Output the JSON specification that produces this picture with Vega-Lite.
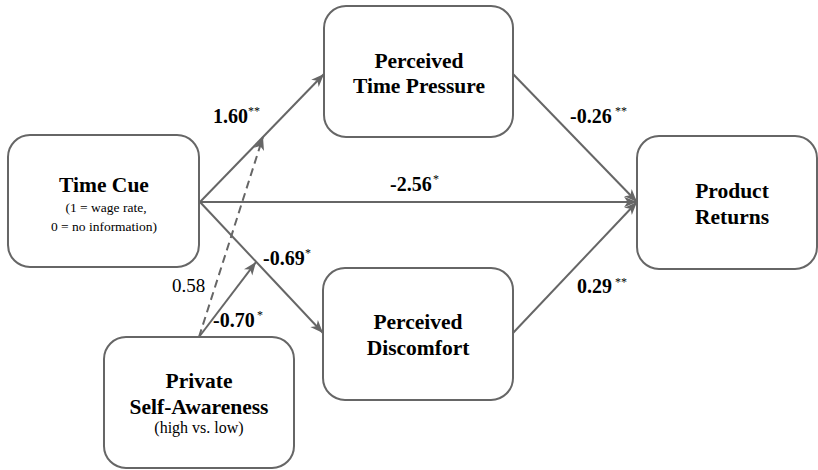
{
  "$schema": "https://vega.github.io/schema/vega-lite/v6.json",
  "width": 818,
  "height": 470,
  "autosize": {"type": "fit", "contains": "padding"},
  "padding": 0,
  "background": "white",
  "config": {"view": {"stroke": null}},
  "datasets": {
    "boxes": [
      {"node": "Time Cue", "x1": 8, "x2": 199, "y1": 135, "y2": 267},
      {"node": "Perceived Time Pressure", "x1": 324, "x2": 513, "y1": 6, "y2": 137},
      {"node": "Perceived Discomfort", "x1": 323, "x2": 513, "y1": 268, "y2": 400},
      {"node": "Product Returns", "x1": 637, "x2": 817, "y1": 136, "y2": 269},
      {"node": "Private Self-Awareness", "x1": 104, "x2": 294, "y1": 337, "y2": 468}
    ],
    "paths": [
      {"from": "Time Cue", "to": "Perceived Time Pressure", "x": 200, "y": 202, "x2": 324, "y2": 74, "kind": "solid"},
      {"from": "Time Cue", "to": "Product Returns", "x": 200, "y": 202, "x2": 637, "y2": 202, "kind": "solid"},
      {"from": "Time Cue", "to": "Perceived Discomfort", "x": 200, "y": 202, "x2": 323, "y2": 333, "kind": "solid"},
      {"from": "Perceived Time Pressure", "to": "Product Returns", "x": 513, "y": 74, "x2": 637, "y2": 202, "kind": "solid"},
      {"from": "Perceived Discomfort", "to": "Product Returns", "x": 513, "y": 333, "x2": 637, "y2": 202, "kind": "solid"},
      {"from": "Private Self-Awareness", "to": "Time Cue -> Perceived Discomfort", "x": 199, "y": 337, "x2": 256, "y2": 262, "kind": "solid"},
      {"from": "Private Self-Awareness", "to": "Time Cue -> Perceived Time Pressure", "x": 199, "y": 337, "x2": 263, "y2": 137, "kind": "dashed"}
    ],
    "titles": [
      {"text": "Time Cue", "x": 104, "y": 192},
      {"text": "Perceived", "x": 419, "y": 68},
      {"text": "Time Pressure", "x": 419, "y": 93},
      {"text": "Perceived", "x": 418, "y": 329},
      {"text": "Discomfort", "x": 418, "y": 355},
      {"text": "Product", "x": 732, "y": 198},
      {"text": "Returns", "x": 732, "y": 224},
      {"text": "Private", "x": 199, "y": 388},
      {"text": "Self-Awareness", "x": 199, "y": 414}
    ],
    "notes": [
      {"node": "Time Cue", "text": "(1 = wage rate,", "x": 106, "y": 212},
      {"node": "Time Cue", "text": "0 = no information)", "x": 104, "y": 231},
      {"node": "Private Self-Awareness", "text": "(high vs. low)", "x": 199, "y": 433}
    ],
    "coefs": [
      {"text": "1.60", "x": 213, "y": 123},
      {"text": "-0.26", "x": 570, "y": 123},
      {"text": "-2.56", "x": 390, "y": 191},
      {"text": "-0.69", "x": 263, "y": 265},
      {"text": "-0.70", "x": 213, "y": 327},
      {"text": "0.29", "x": 577, "y": 293}
    ],
    "plain": [
      {"text": "0.58", "x": 172, "y": 292}
    ],
    "stars": [
      {"text": "**", "x": 248, "y": 115},
      {"text": "**", "x": 615, "y": 115},
      {"text": "*", "x": 433, "y": 183},
      {"text": "*", "x": 305, "y": 257},
      {"text": "*", "x": 257, "y": 319},
      {"text": "**", "x": 615, "y": 286}
    ]
  },
  "layer": [
    {
      "data": {"name": "boxes"},
      "mark": {"type": "rect", "cornerRadius": 22, "fill": "white", "stroke": "#666666", "strokeWidth": 2},
      "encoding": {
        "x": {"field": "x1", "type": "quantitative", "scale": {"domain": [0, 818], "nice": false, "zero": false}, "axis": null},
        "x2": {"field": "x2"},
        "y": {"field": "y1", "type": "quantitative", "scale": {"domain": [0, 470], "nice": false, "zero": false, "reverse": true}, "axis": null},
        "y2": {"field": "y2"}
      }
    },
    {
      "data": {"name": "paths"},
      "transform": [{"filter": "datum.kind === 'solid'"}],
      "mark": {"type": "rule", "stroke": "#666666", "strokeWidth": 2},
      "encoding": {
        "x": {"field": "x", "type": "quantitative", "axis": null},
        "x2": {"field": "x2"},
        "y": {"field": "y", "type": "quantitative", "axis": null},
        "y2": {"field": "y2"}
      }
    },
    {
      "data": {"name": "paths"},
      "transform": [{"filter": "datum.kind === 'dashed'"}],
      "mark": {"type": "rule", "stroke": "#666666", "strokeWidth": 2, "strokeDash": [8, 5]},
      "encoding": {
        "x": {"field": "x", "type": "quantitative", "axis": null},
        "x2": {"field": "x2"},
        "y": {"field": "y", "type": "quantitative", "axis": null},
        "y2": {"field": "y2"}
      }
    },
    {
      "data": {"name": "paths"},
      "transform": [{"calculate": "atan2(datum.y2 - datum.y, datum.x2 - datum.x) * 180 / PI", "as": "ang"}],
      "mark": {"type": "point", "shape": "M0,0L-2,-0.8L-1.45,0L-2,0.8Z", "filled": true, "fill": "#666666", "size": 169, "opacity": 1, "strokeWidth": 0},
      "encoding": {
        "x": {"field": "x2", "type": "quantitative", "axis": null},
        "y": {"field": "y2", "type": "quantitative", "axis": null},
        "angle": {"field": "ang", "type": "quantitative", "scale": null}
      }
    },
    {
      "data": {"name": "titles"},
      "mark": {"type": "text", "font": "Liberation Serif", "fontWeight": "bold", "fontSize": 21.5, "align": "center", "baseline": "alphabetic", "fill": "#000000"},
      "encoding": {
        "x": {"field": "x", "type": "quantitative", "axis": null},
        "y": {"field": "y", "type": "quantitative", "axis": null},
        "text": {"field": "text"}
      }
    },
    {
      "data": {"name": "notes"},
      "transform": [{"filter": "datum.node === 'Time Cue'"}],
      "mark": {"type": "text", "font": "Liberation Serif", "fontSize": 13.5, "align": "center", "baseline": "alphabetic", "fill": "#000000"},
      "encoding": {
        "x": {"field": "x", "type": "quantitative", "axis": null},
        "y": {"field": "y", "type": "quantitative", "axis": null},
        "text": {"field": "text"}
      }
    },
    {
      "data": {"name": "notes"},
      "transform": [{"filter": "datum.node !== 'Time Cue'"}],
      "mark": {"type": "text", "font": "Liberation Serif", "fontSize": 16, "align": "center", "baseline": "alphabetic", "fill": "#000000"},
      "encoding": {
        "x": {"field": "x", "type": "quantitative", "axis": null},
        "y": {"field": "y", "type": "quantitative", "axis": null},
        "text": {"field": "text"}
      }
    },
    {
      "data": {"name": "coefs"},
      "mark": {"type": "text", "font": "Liberation Serif", "fontWeight": "bold", "fontSize": 20, "align": "left", "baseline": "alphabetic", "fill": "#000000"},
      "encoding": {
        "x": {"field": "x", "type": "quantitative", "axis": null},
        "y": {"field": "y", "type": "quantitative", "axis": null},
        "text": {"field": "text"}
      }
    },
    {
      "data": {"name": "plain"},
      "mark": {"type": "text", "font": "Liberation Serif", "fontSize": 19, "align": "left", "baseline": "alphabetic", "fill": "#000000"},
      "encoding": {
        "x": {"field": "x", "type": "quantitative", "axis": null},
        "y": {"field": "y", "type": "quantitative", "axis": null},
        "text": {"field": "text"}
      }
    },
    {
      "data": {"name": "stars"},
      "mark": {"type": "text", "font": "Liberation Serif", "fontSize": 12, "align": "left", "baseline": "alphabetic", "fill": "#000000"},
      "encoding": {
        "x": {"field": "x", "type": "quantitative", "axis": null},
        "y": {"field": "y", "type": "quantitative", "axis": null},
        "text": {"field": "text"}
      }
    }
  ]
}
